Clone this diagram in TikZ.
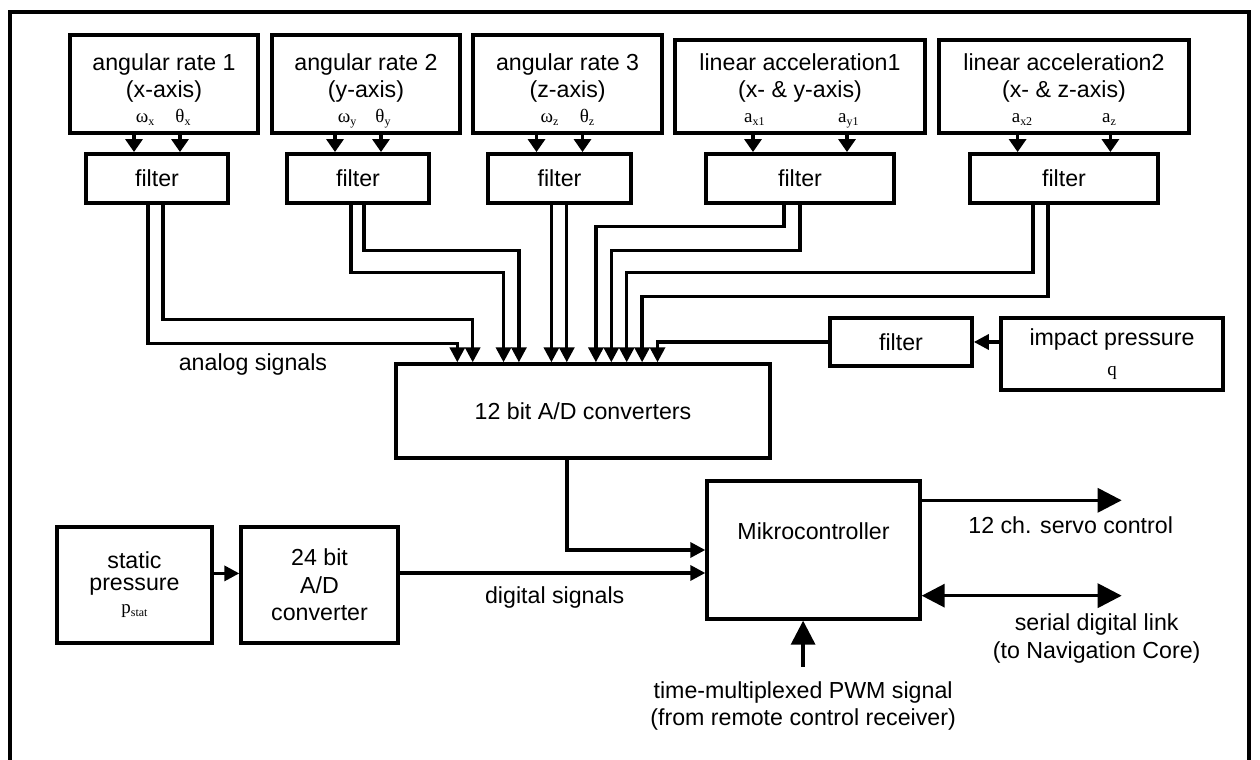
\documentclass[tikz,border=0pt]{standalone}
\usepackage{fontspec}
\setmainfont{Liberation Sans}
\newfontfamily\symf{Liberation Serif}
\usepackage{tikz}
\usetikzlibrary{calc, positioning, arrows.meta}
\def\slotsep{0.385cm}
\newcommand{\sbs}[1]{\raisebox{-0.3ex}{\fontsize{8.5pt}{8.5pt}\selectfont #1}}
\newcommand{\symtext}[1]{{\fontsize{13.5pt}{15pt}\symf #1}}
\tikzstyle{every node}=[font=\fontsize{16.5pt}{19.5pt}\selectfont]
\tikzstyle{sensor}=[draw, line width=2.6pt, minimum height=2.45cm, inner sep=0pt]
\tikzstyle{filt}=[draw, line width=2.6pt, minimum width=3.55cm, minimum height=1.225cm, inner sep=0pt]
\tikzstyle{unit}=[draw, line width=2.4pt, align=center, inner sep=0pt]
\tikzstyle{txt}=[align=center, inner sep=0pt]
\tikzstyle{sym}=[font=\fontsize{13.5pt}{15pt}\symf, anchor=base, inner sep=0pt]
\tikzstyle{feed}=[line width=2.4pt, -{Triangle[length=0.325cm, width=0.425cm]}]
\tikzstyle{sig}=[line width=2.4pt, -{Triangle[length=0.375cm, width=0.375cm]}]
\tikzstyle{big}=[line width=2.4pt, -{Triangle[length=0.6cm, width=0.6cm]}]
\tikzstyle{both}=[line width=2.4pt, {Triangle[length=0.575cm, width=0.575cm]}-{Triangle[length=0.6cm, width=0.6cm]}]

\begin{document}
\begin{tikzpicture}
		\useasboundingbox (0,0) rectangle (31.5,19);
		\clip (0,0) rectangle (31.5,19);
		\draw[line width=2.8pt] (0.24,-1) rectangle (31.22,18.7);
		% sensors
		\node[sensor, minimum width=4.7cm] (rate1) at (4.1,16.9) {};
		\node[sensor, minimum width=4.7cm] (rate2) at (9.15,16.9) {};
		\node[sensor, minimum width=4.72cm] (rate3) at (14.19,16.9) {};
		\node[sensor, minimum width=6.25cm, minimum height=2.325cm] (acc1) at (20,16.84) {};
		\node[sensor, minimum width=6.25cm, minimum height=2.325cm] (acc2) at (26.6,16.84) {};
		\node[txt] (rate1t) at (4.1,17.05) {angular rate 1\\(x-axis)};
		\node[txt] (rate2t) at (9.15,17.05) {angular rate 2\\(y-axis)};
		\node[txt] (rate3t) at (14.19,17.05) {angular rate 3\\(z-axis)};
		\node[txt] (acc1t) at (20,17.05) {linear acceleration1\\(x- \& y-axis)};
		\node[txt] (acc2t) at (26.6,17.05) {linear acceleration2\\(x- \& z-axis)};
		\node[sym] (wx) at (3.625,15.925) {ω\sbs{x}};
		\node[sym] (tx) at (4.575,15.925) {θ\sbs{x}};
		\node[sym] (wy) at (8.675,15.925) {ω\sbs{y}};
		\node[sym] (ty) at (9.575,15.925) {θ\sbs{y}};
		\node[sym] (wz) at (13.74,15.925) {ω\sbs{z}};
		\node[sym] (tz) at (14.675,15.925) {θ\sbs{z}};
		\node[sym] (ax1) at (18.86,15.925) {a\sbs{x1}};
		\node[sym] (ay1) at (21.21,15.925) {a\sbs{y1}};
		\node[sym] (ax2) at (25.55,15.925) {a\sbs{x2}};
		\node[sym] (az) at (27.725,15.925) {a\sbs{z}};
		% filters
		\node[filt] (flt1) at (3.925,14.54) {filter};
		\node[filt] (flt2) at (8.95,14.54) {filter};
		\node[filt, minimum width=3.575cm] (flt3) at (13.9875,14.54) {filter};
		\node[filt, minimum width=4.7cm] (flt4) at (20,14.54) {filter};
		\node[filt, minimum width=4.7cm] (flt5) at (26.6,14.54) {filter};
		\foreach \s/\f/\dx in {rate1/flt1/-0.575, rate1/flt1/0.575, rate2/flt2/-0.575, rate2/flt2/0.575,
			rate3/flt3/-0.575, rate3/flt3/0.575, acc1/flt4/-1.175, acc1/flt4/1.175, acc2/flt5/-1.16, acc2/flt5/1.16}
			\draw[feed] ([xshift=\dx cm]\f.north |- \s.south) -- ([xshift=\dx cm]\f.north);
		% converters
		\node[unit, minimum width=9.35cm, minimum height=2.35cm] (adc) at (14.575,8.725) {12 bit A/D converters};
		\node[filt, minimum height=1.2cm] (fltq) at (22.525,10.45) {filter};
		\node[unit, minimum width=5.55cm, minimum height=1.8cm] (qbox) at (27.8,10.15) {impact pressure\\[2pt]\symtext{q}};
		\foreach \src/\dx/\d/\k in {flt1/-0.225/3.475/0, flt1/0.15/2.875/1, flt2/-0.175/1.7/3, flt2/0.15/1.15/4,
			flt4/-0.4/0.55/9, flt4/0/1.15/10, flt5/-0.775/1.7/11, flt5/-0.4/2.3/12}
			\draw[sig] ([xshift=\dx cm]\src.south) -- ++(0,-\d) -| ([xshift=1.575cm+\k*\slotsep]adc.north west);
		\foreach \dx in {-0.2025, 0.1825}
			\draw[sig] ([xshift=\dx cm]flt3.south) -- ([xshift=\dx cm]flt3.south |- adc.north);
		\draw[sig] (fltq.west) -| ([xshift=1.575cm+13*\slotsep]adc.north west);
		\draw[sig] (qbox.west |- fltq.east) -- (fltq.east);
		\node[txt] (analog) at (6.325,9.875) {analog signals};
		% bottom row
		\node[unit, minimum width=3.875cm, minimum height=2.9cm] (pstat) at (3.3625,4.375) {static\\[-4pt]pressure\\[-3pt]\symtext{p\sbs{stat}}};
		\node[unit, minimum width=3.925cm, minimum height=2.9cm] (ad24) at (7.9875,4.375) {24 bit\\A/D\\converter};
		\node[unit, minimum width=5.325cm, minimum height=3.45cm] (mcu) at (20.3375,5.25) {};
		\node[txt] (mcut) at ([yshift=-1.3cm]mcu.north) {Mikrocontroller};
		\draw[sig] ([yshift=0.29cm]pstat.east) -- ([yshift=0.29cm]ad24.west);
		\coordinate (dsig) at ([yshift=0.3cm]ad24.east);
		\draw[sig] (dsig) -- (dsig -| mcu.west);
		\node[txt] (digital) at ([shift={(3.875,-0.625)}]dsig) {digital signals};
		\draw[sig] ([xshift=-0.4cm]adc.south) |- (mcu.west);
		\coordinate (servo) at ([yshift=-0.525cm]mcu.north east);
		\draw[big] (servo) -- ++(5,0);
		\node[txt] (servol) at ([shift={(3.725,-0.625)}]servo) {12 ch. servo control};
		\coordinate (link) at ([yshift=0.625cm]mcu.south east);
		\draw[both] (link) -- ++(5,0);
		\node[txt, anchor=north] (linkl) at ([shift={(4.375,-0.45)}]link) {serial digital link\\(to Navigation Core)};
		\coordinate (pwm) at ([shift={(-0.26,-1.15)}]mcu.south);
		\draw[big] (pwm) -- (pwm |- mcu.south);
		\node[txt, below=0.36cm of pwm] (pwml) {time-multiplexed PWM signal\\(from remote control receiver)};
	\end{tikzpicture}
\end{document}
